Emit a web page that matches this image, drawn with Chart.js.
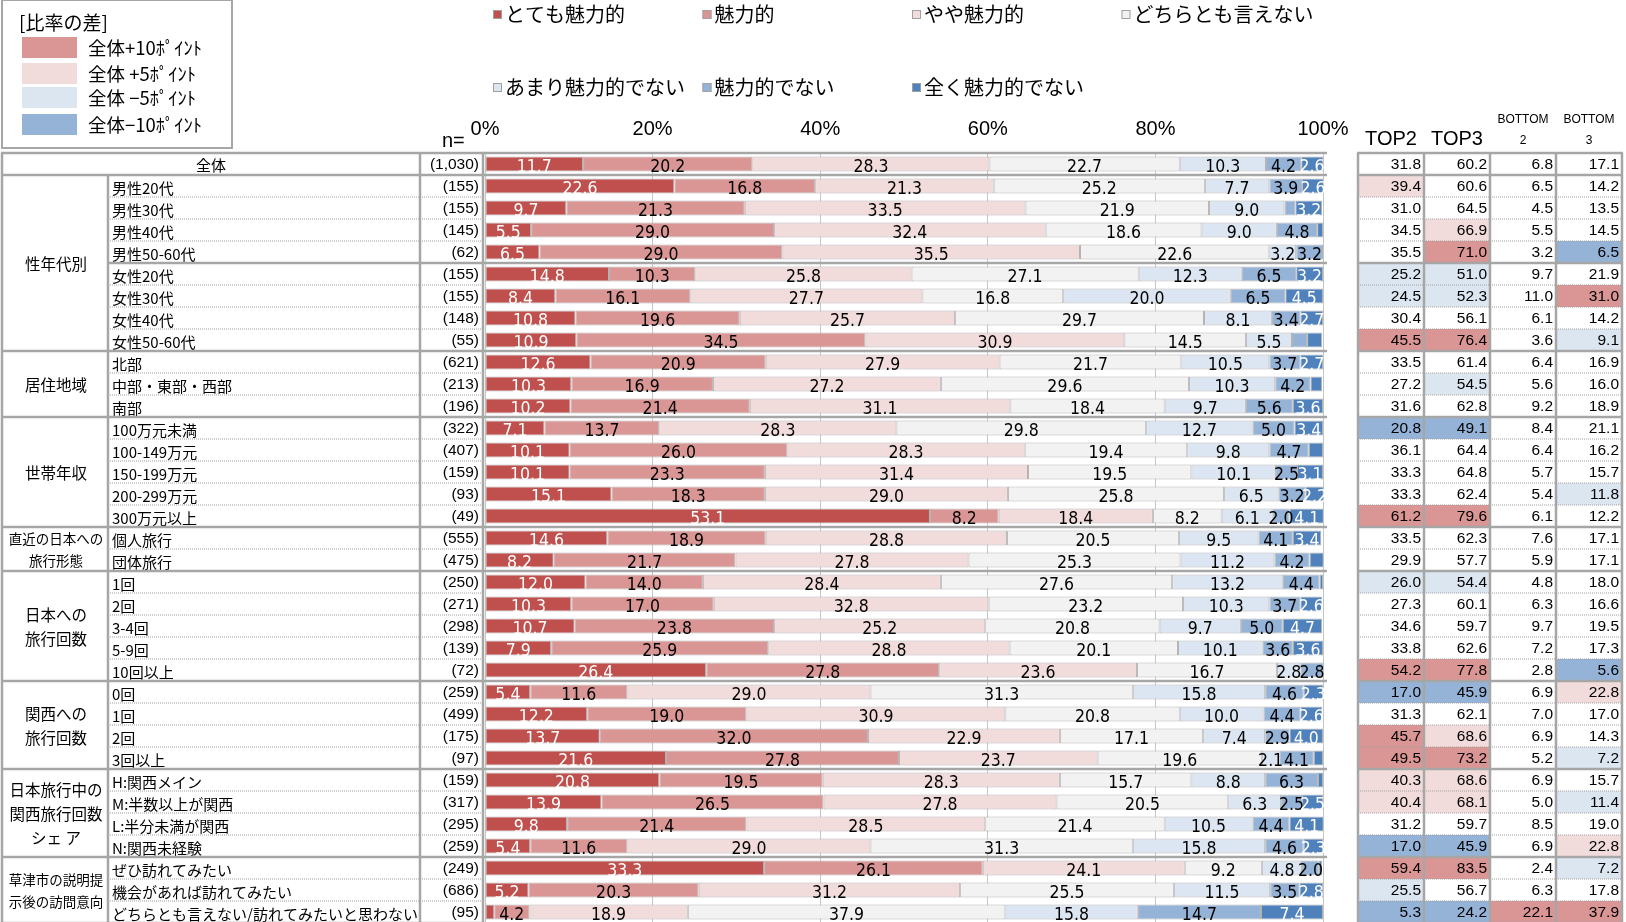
<!DOCTYPE html>
<html>
<head>
<meta charset="utf-8">
<script src="https://cdn.jsdelivr.net/npm/chart.js@4.4.0/dist/chart.umd.min.js"></script>
<style>
  html, body { margin: 0; padding: 0; background: #fff; overflow: hidden; }
  canvas { display: block; }
</style>
</head>
<body>
<canvas id="attractChart" width="1626" height="926"></canvas>
<script>
// rows of the cross tabulation
const rowLabels = ['全体', '男性20代', '男性30代', '男性40代', '男性50-60代', '女性20代', '女性30代', '女性40代', '女性50-60代',
  '北部', '中部・東部・西部', '南部',
  '100万元未満', '100-149万元', '150-199万元', '200-299万元', '300万元以上',
  '個人旅行', '団体旅行',
  '1回', '2回', '3-4回', '5-9回', '10回以上',
  '0回', '1回', '2回', '3回以上',
  'H:関西メイン', 'M:半数以上が関西', 'L:半分未満が関西', 'N:関西未経験',
  'ぜひ訪れてみたい', '機会があれば訪れてみたい', 'どちらとも言えない/訪れてみたいと思わない'];
const sampleSizes = [1030, 155, 155, 145, 62, 155, 155, 148, 55, 621, 213, 196, 322, 407, 159, 93, 49, 555, 475,
  250, 271, 298, 139, 72, 259, 499, 175, 97, 159, 317, 295, 259, 249, 686, 95];

// group headers for the left column
const groupNames = [['性年代別'], ['居住地域'], ['世帯年収'], ['直近の日本への', '旅行形態'], ['日本への', '旅行回数'],
  ['関西への', '旅行回数'], ['日本旅行中の', '関西旅行回数', 'シェ ア'], ['草津市の説明提', '示後の訪問意向']];
const groupSizes = [8, 3, 5, 2, 5, 4, 4, 3];
const subBreaks = [5];

// answer shares (%)
const seriesNames = ['とても魅力的', '魅力的', 'やや魅力的', 'どちらとも言えない', 'あまり魅力的でない', '魅力的でない', '全く魅力的でない'];
const veryAttractive = [11.7, 22.6, 9.7, 5.5, 6.5, 14.8, 8.4, 10.8, 10.9, 12.6, 10.3, 10.2, 7.1, 10.1, 10.1, 15.1, 53.1, 14.6, 8.2,
  12.0, 10.3, 10.7, 7.9, 26.4, 5.4, 12.2, 13.7, 21.6, 20.8, 13.9, 9.8, 5.4, 33.3, 5.2, 1.1];
const attractive = [20.2, 16.8, 21.3, 29.0, 29.0, 10.3, 16.1, 19.6, 34.5, 20.9, 16.9, 21.4, 13.7, 26.0, 23.3, 18.3, 8.2, 18.9, 21.7,
  14.0, 17.0, 23.8, 25.9, 27.8, 11.6, 19.0, 32.0, 27.8, 19.5, 26.5, 21.4, 11.6, 26.1, 20.3, 4.2];
const somewhatAttractive = [28.3, 21.3, 33.5, 32.4, 35.5, 25.8, 27.7, 25.7, 30.9, 27.9, 27.2, 31.1, 28.3, 28.3, 31.4, 29.0, 18.4, 28.8, 27.8,
  28.4, 32.8, 25.2, 28.8, 23.6, 29.0, 30.9, 22.9, 23.7, 28.3, 27.8, 28.5, 29.0, 24.1, 31.2, 18.9];
const neutral = [22.7, 25.2, 21.9, 18.6, 22.6, 27.1, 16.8, 29.7, 14.5, 21.7, 29.6, 18.4, 29.8, 19.4, 19.5, 25.8, 8.2, 20.5, 25.3,
  27.6, 23.2, 20.8, 20.1, 16.7, 31.3, 20.8, 17.1, 19.6, 15.7, 20.5, 21.4, 31.3, 9.2, 25.5, 37.9];
const notVery = [10.3, 7.7, 9.0, 9.0, 3.2, 12.3, 20.0, 8.1, 5.5, 10.5, 10.3, 9.7, 12.7, 9.8, 10.1, 6.5, 6.1, 9.5, 11.2,
  13.2, 10.3, 9.7, 10.1, 2.8, 15.8, 10.0, 7.4, 2.1, 8.8, 6.3, 10.5, 15.8, 4.8, 11.5, 15.8];
const notAttractive = [4.2, 3.9, 1.3, 4.8, 3.2, 6.5, 6.5, 3.4, 1.8, 3.7, 4.2, 5.6, 5.0, 4.7, 2.5, 3.2, 2.0, 4.1, 4.2,
  4.4, 3.7, 5.0, 3.6, 2.8, 4.6, 4.4, 2.9, 4.1, 6.3, 2.5, 4.4, 4.6, 2.0, 3.5, 14.7];
const notAtAll = [2.6, 2.6, 3.2, 0.7, 0, 3.2, 4.5, 2.7, 1.8, 2.7, 1.4, 3.6, 3.4, 1.7, 3.1, 2.2, 4.1, 3.4, 1.7,
  0.4, 2.6, 4.7, 3.6, 0, 2.3, 2.6, 4.0, 1.1, 0.6, 2.5, 4.1, 2.3, 0.4, 2.8, 7.4];

// summary columns
const summaryHeads = ['TOP2', 'TOP3', 'BOTTOM2', 'BOTTOM3'];
const top2 = [31.8, 39.4, 31.0, 34.5, 35.5, 25.2, 24.5, 30.4, 45.5, 33.5, 27.2, 31.6, 20.8, 36.1, 33.3, 33.3, 61.2, 33.5, 29.9,
  26.0, 27.3, 34.6, 33.8, 54.2, 17.0, 31.3, 45.7, 49.5, 40.3, 40.4, 31.2, 17.0, 59.4, 25.5, 5.3];
const top3 = [60.2, 60.6, 64.5, 66.9, 71.0, 51.0, 52.3, 56.1, 76.4, 61.4, 54.5, 62.8, 49.1, 64.4, 64.8, 62.4, 79.6, 62.3, 57.7,
  54.4, 60.1, 59.7, 62.6, 77.8, 45.9, 62.1, 68.6, 73.2, 68.6, 68.1, 59.7, 45.9, 83.5, 56.7, 24.2];
const bottom2 = [6.8, 6.5, 4.5, 5.5, 3.2, 9.7, 11.0, 6.1, 3.6, 6.4, 5.6, 9.2, 8.4, 6.4, 5.7, 5.4, 6.1, 7.6, 5.9,
  4.8, 6.3, 9.7, 7.2, 2.8, 6.9, 7.0, 6.9, 5.2, 6.9, 5.0, 8.5, 6.9, 2.4, 6.3, 22.1];
const bottom3 = [17.1, 14.2, 13.5, 14.5, 6.5, 21.9, 31.0, 14.2, 9.1, 16.9, 16.0, 18.9, 21.1, 16.2, 15.7, 11.8, 12.2, 17.1, 17.1,
  18.0, 16.6, 19.5, 17.3, 5.6, 22.8, 17.0, 14.3, 7.2, 15.7, 11.4, 19.0, 22.8, 7.2, 17.8, 37.9];

const xTicks = [0, 20, 40, 60, 80, 100];
const diffKeys = ['全体+10ﾎﾟｲﾝﾄ', '全体 +5ﾎﾟｲﾝﾄ', '全体 −5ﾎﾟｲﾝﾄ', '全体−10ﾎﾟｲﾝﾄ'];

const seriesColors = ['#C0504D', '#D99694', '#F2DCDB', '#F2F2F2', '#DCE6F2', '#95B3D7', '#4F81BD'];
const seriesText = ['#fff', '#000', '#000', '#000', '#000', '#000', '#fff'];
const diffColors = ['#DA9694', '#F2DCDB', '#DCE6F1', '#95B3D7'];
const lineGray = '#A6A6A6';
const jpFont = '"Noto Sans CJK JP", sans-serif';
const numFont = '"Liberation Sans", Arial, sans-serif';
const narrowFont = '"Liberation Sans Narrow", "Arial Narrow", "DejaVu Sans Condensed", sans-serif';

function diffColor(v, base) {
  const d = v - base;
  if (d >= 10) return diffColors[0];
  if (d >= 5) return diffColors[1];
  if (d <= -10) return diffColors[3];
  if (d <= -5) return diffColors[2];
  return null;
}

function hLine(ctx, x0, x1, y, width, dashed) {
  ctx.save();
  ctx.strokeStyle = dashed ? '#A0A0A0' : lineGray;
  ctx.lineWidth = width;
  if (dashed) ctx.setLineDash([1, 1]);
  ctx.beginPath();
  ctx.moveTo(x0, y);
  ctx.lineTo(x1, y);
  ctx.stroke();
  ctx.restore();
}

function vLine(ctx, x, y0, y1, width) {
  ctx.save();
  ctx.strokeStyle = lineGray;
  ctx.lineWidth = width;
  ctx.beginPath();
  ctx.moveTo(x, y0);
  ctx.lineTo(x, y1);
  ctx.stroke();
  ctx.restore();
}

// numbers inside the bar segments
const segmentLabels = {
  id: 'segmentLabels',
  afterDatasetsDraw(chart) {
    const ctx = chart.ctx;
    ctx.save();
    ctx.font = '17.5px ' + narrowFont;
    ctx.textAlign = 'center';
    ctx.textBaseline = 'middle';
    chart.data.datasets.forEach((ds, k) => {
      chart.getDatasetMeta(k).data.forEach((bar, i) => {
        const v = ds.data[i];
        if (v < 2) return;
        const p = bar.getProps(['x', 'y', 'base'], true);
        ctx.fillStyle = seriesText[k];
        ctx.fillText(v.toFixed(1), (p.x + p.base) / 2, p.y + 3);
      });
    });
    ctx.restore();
  }
};

// left and right tables, legends and headings
const sideTables = {
  id: 'sideTables',
  afterDraw(chart) {
    const ctx = chart.ctx;
    const ys = chart.scales.y;
    const area = chart.chartArea;
    const pitch = ys.getPixelForValue(1) - ys.getPixelForValue(0);
    const top0 = ys.getPixelForValue(0) - pitch / 2;
    const rowTop = i => top0 + i * pitch;
    const rowMid = i => ys.getPixelForValue(i);
    const n = rowLabels.length;
    const catL = 2, catR = 108, labR = 420, nR = 483;
    const sumX = [1358, 1424, 1490, 1556, 1622];

    // group boundaries
    const breaks = [1];
    groupSizes.reduce((acc, s) => { breaks.push(acc + s); return acc + s; }, 1);

    ctx.save();
    // left table text
    ctx.fillStyle = '#000';
    ctx.textBaseline = 'middle';
    rowLabels.forEach((lab, i) => {
      ctx.font = '15px ' + jpFont;
      if (i === 0) {
        ctx.textAlign = 'center';
        ctx.fillText(lab, (catL + labR) / 2, rowMid(i) + 1);
      } else {
        ctx.textAlign = 'left';
        ctx.fillText(lab, catR + 4, rowMid(i) + 2);
      }
      ctx.font = '15.5px ' + numFont;
      ctx.textAlign = 'right';
      ctx.fillText('(' + sampleSizes[i].toLocaleString('en-US') + ')', nR - 4, rowMid(i) + 1);
    });

    // group headings
    let start = 1;
    groupNames.forEach((lines, g) => {
      const end = start + groupSizes[g];
      const mid = (rowTop(start) + rowTop(end)) / 2;
      const small = lines[0].length >= 7;
      const gap = small ? 22 : 24;
      ctx.font = (small ? '13.5px ' : '15.5px ') + jpFont;
      ctx.textAlign = 'center';
      lines.forEach((t, j) => {
        ctx.fillText(t, (catL + catR) / 2 + 1, mid + (j - (lines.length - 1) / 2) * gap + 1);
      });
      start = end;
    });

    // right table cells
    const cols = [top2, top3, bottom2, bottom3];
    cols.forEach((vals, c) => {
      vals.forEach((v, i) => {
        const bg = i === 0 ? null : diffColor(v, vals[0]);
        if (bg) {
          ctx.fillStyle = bg;
          ctx.fillRect(sumX[c], rowTop(i), sumX[c + 1] - sumX[c], pitch);
        }
      });
    });
    ctx.fillStyle = '#000';
    ctx.font = '15.5px ' + numFont;
    ctx.textAlign = 'right';
    cols.forEach((vals, c) => {
      vals.forEach((v, i) => ctx.fillText(v.toFixed(1), sumX[c + 1] - 3, rowMid(i) + 1));
    });

    // right table headings
    ctx.textAlign = 'center';
    summaryHeads.forEach((h, c) => {
      const cx = (sumX[c] + sumX[c + 1]) / 2;
      if (h.startsWith('BOTTOM')) {
        ctx.font = '12px ' + numFont;
        ctx.fillText('BOTTOM', cx, 120);
        ctx.fillText(h.slice(6), cx, 141);
      } else {
        ctx.font = '20px ' + numFont;
        ctx.fillText(h, cx, 139);
      }
    });
    ctx.font = '20px ' + numFont;
    ctx.textAlign = 'left';
    ctx.fillText('n=', 442, 141);

    // row lines
    for (let i = 1; i < n; i++) {
      const yy = rowTop(i);
      if (breaks.includes(i)) {
        hLine(ctx, catL, nR, yy, 2.5);
        hLine(ctx, area.left - 2, area.right + 4, yy, 2.5);
        hLine(ctx, sumX[0], sumX[4], yy, 2.5);
      } else if (subBreaks.includes(i)) {
        hLine(ctx, catR, nR, yy, 2.5);
        hLine(ctx, area.left - 2, area.right + 4, yy, 2.5);
        hLine(ctx, sumX[0], sumX[4], yy, 2.5);
      } else {
        hLine(ctx, catR, nR, yy, 1, true);
        hLine(ctx, sumX[0], sumX[4], yy, 1, true);
      }
    }
    const yTop = rowTop(0), yBot = rowTop(n);
    hLine(ctx, catL - 1, nR + 1, yTop, 2.5);
    hLine(ctx, area.left - 2, area.right + 4, yTop, 2.5);
    hLine(ctx, sumX[0] - 1, sumX[4] + 1, yTop, 2.5);
    hLine(ctx, catL - 1, nR + 1, yBot, 2.5);
    hLine(ctx, sumX[0] - 1, sumX[4] + 1, yBot, 2.5);
    [catL, labR, nR].forEach(xx => vLine(ctx, xx, yTop, yBot, 2.5));
    vLine(ctx, catR, rowTop(1), yBot, 2.5);
    sumX.forEach(xx => vLine(ctx, xx, yTop, yBot, 2.5));

    // colour key for the summary table
    ctx.strokeStyle = lineGray;
    ctx.lineWidth = 2;
    ctx.strokeRect(2, 0, 230, 148);
    ctx.fillStyle = '#000';
    ctx.font = '19px ' + jpFont;
    ctx.textAlign = 'left';
    ctx.fillText('[比率の差]', 19, 23);
    ctx.font = '18.5px ' + jpFont;
    const keyY = [37, 63, 87, 114];
    diffKeys.forEach((t, k) => {
      ctx.fillStyle = diffColors[k];
      ctx.fillRect(22, keyY[k], 55, 21);
      ctx.fillStyle = '#000';
      ctx.fillText(t, 88, keyY[k] + 11);
    });

    // series legend
    ctx.font = '20px ' + jpFont;
    chart.data.datasets.forEach((ds, k) => {
      const lx = 493 + (k % 4) * 209.5;
      const ly = k < 4 ? 14 : 87;
      ctx.fillStyle = ds.backgroundColor;
      ctx.fillRect(lx, ly - 4, 9, 9);
      ctx.strokeStyle = '#A0A0A0';
      ctx.lineWidth = 1;
      ctx.strokeRect(lx + 0.5, ly - 3.5, 8, 8);
      ctx.fillStyle = '#000';
      ctx.fillText(ds.label, lx + 12, ly);
    });
    ctx.restore();
  }
};

const seriesData = [veryAttractive, attractive, somewhatAttractive, neutral, notVery, notAttractive, notAtAll];

new Chart(document.getElementById('attractChart'), {
  type: 'bar',
  data: {
    labels: rowLabels,
    datasets: seriesNames.map((name, k) => ({
      label: name,
      data: seriesData[k],
      backgroundColor: seriesColors[k],
      borderColor: '#B4B4B4',
      borderWidth: 1,
      borderSkipped: false,
      barPercentage: 0.68,
      categoryPercentage: 1
    }))
  },
  options: {
    indexAxis: 'y',
    responsive: false,
    animation: false,
    layout: { padding: { left: 485, right: 303, top: 105, bottom: 3 } },
    plugins: {
      legend: { display: false },
      tooltip: { enabled: false }
    },
    scales: {
      x: {
        stacked: true,
        position: 'top',
        min: 0,
        max: 100,
        afterBuildTicks: scale => { scale.ticks = xTicks.map(v => ({ value: v })); },
        ticks: {
          callback: v => v + '%',
          color: '#000',
          padding: 12,
          maxRotation: 0,
          font: { family: numFont, size: 20 }
        },
        grid: { color: '#C4C4C4', drawTicks: false },
        border: { display: false }
      },
      y: { stacked: true, display: false }
    }
  },
  plugins: [segmentLabels, sideTables]
});
</script>
</body>
</html>
